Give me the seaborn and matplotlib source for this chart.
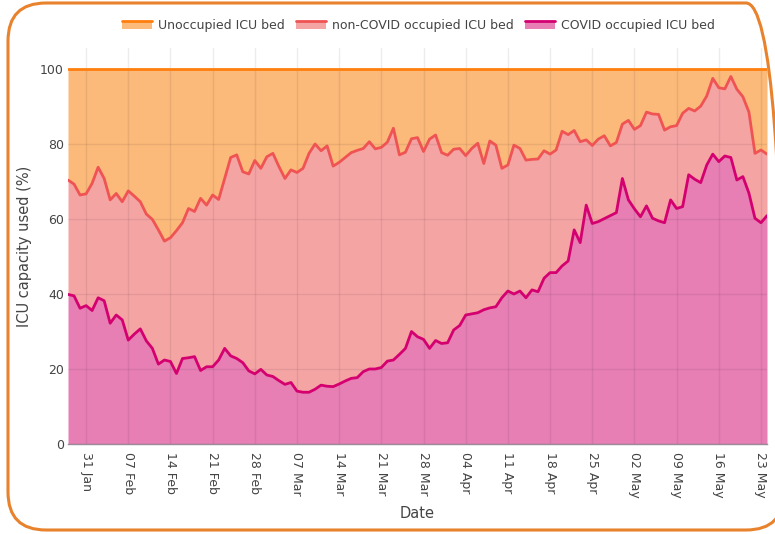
import matplotlib
matplotlib.use("Agg")
import matplotlib.pyplot as plt
import matplotlib.dates as mdates
from matplotlib.patches import FancyBboxPatch, Patch, Rectangle
from matplotlib.lines import Line2D
import seaborn as sns
import pandas as pd

# daily values, starting 28 Jan 2021
start_date = "2021-01-28"

# total occupied ICU beds (COVID + non-COVID), % of capacity
occupied_pct = [
    70.4, 69.3, 66.4, 66.7, 69.5, 73.8, 70.8, 65.1, 66.8, 64.6,
    67.5, 66.1, 64.6, 61.3, 59.9, 57.1, 54.1, 55.0, 56.9, 59.0,
    62.8, 62.0, 65.5, 63.7, 66.4, 65.2, 70.8, 76.4, 77.1, 72.6,
    72.0, 75.6, 73.5, 76.6, 77.5, 74.0, 70.8, 73.1, 72.4, 73.5,
    77.5, 80.0, 78.2, 79.5, 74.1, 75.1, 76.4, 77.7, 78.3, 78.8,
    80.6, 78.7, 79.1, 80.5, 84.2, 77.1, 77.8, 81.4, 81.7, 78.0,
    81.3, 82.4, 77.7, 77.0, 78.6, 78.8, 76.9, 78.8, 80.2, 74.8,
    80.8, 79.7, 73.5, 74.4, 79.7, 78.8, 75.7, 75.9, 76.0, 78.2,
    77.3, 78.4, 83.4, 82.5, 83.6, 80.6, 81.1, 79.6, 81.3, 82.2,
    79.5, 80.4, 85.3, 86.3, 83.9, 84.9, 88.5, 88.0, 87.9, 83.7,
    84.6, 84.9, 88.2, 89.5, 88.8, 90.1, 92.8, 97.5, 95.0, 94.7,
    98.0, 94.6, 92.6, 88.5, 77.5, 78.4, 77.3,
]

# COVID occupied ICU beds, % of capacity
covid_pct = [
    39.9, 39.5, 36.2, 36.9, 35.6, 39.0, 38.2, 32.2, 34.4, 33.1,
    27.7, 29.3, 30.7, 27.5, 25.5, 21.3, 22.4, 22.0, 18.8, 22.8,
    23.0, 23.3, 19.6, 20.6, 20.6, 22.4, 25.5, 23.5, 22.8, 21.7,
    19.5, 18.7, 19.9, 18.4, 18.0, 16.9, 15.9, 16.4, 14.1, 13.8,
    13.8, 14.6, 15.7, 15.4, 15.3, 16.0, 16.8, 17.5, 17.7, 19.3,
    20.0, 20.0, 20.4, 22.1, 22.4, 23.9, 25.5, 30.0, 28.6, 27.9,
    25.5, 27.6, 26.8, 27.0, 30.4, 31.6, 34.4, 34.7, 35.0, 35.8,
    36.3, 36.6, 39.0, 40.8, 40.0, 40.8, 39.0, 41.1, 40.6, 44.2,
    45.7, 45.7, 47.5, 48.8, 57.1, 53.7, 63.7, 58.8, 59.3, 60.1,
    60.9, 61.7, 70.8, 65.1, 62.7, 60.6, 63.5, 60.2, 59.5, 59.0,
    65.1, 62.8, 63.3, 71.8, 70.6, 69.7, 74.4, 77.3, 75.3, 76.8,
    76.4, 70.4, 71.3, 66.9, 60.2, 59.0, 60.9,
]

# total capacity is always 100 %
capacity_pct = [100] * len(occupied_pct)

series_names = ["Unoccupied ICU bed", "non-COVID occupied ICU bed", "COVID occupied ICU bed"]
line_colors = ["#ff7f0e", "#ef5353", "#d4006f"]
fill_colors = ["#fbb97a", "#f5a4a4", "#e77eb4"]


# legend symbol like plotly's area traces: filled box with the line on top
class AreaHandler:
    def legend_artist(self, legend, orig_handle, fontsize, handlebox):
        x0, y0 = handlebox.xdescent, handlebox.ydescent
        w, h = handlebox.width, handlebox.height
        tr = handlebox.get_transform()
        rect = Rectangle((x0, y0), w, h, facecolor=orig_handle.get_facecolor(), lw=0, transform=tr)
        line = Line2D([x0, x0 + w], [y0 + h, y0 + h], color=orig_handle.get_edgecolor(), lw=2, transform=tr)
        handlebox.add_artist(rect)
        handlebox.add_artist(line)
        return rect


dates = pd.date_range(start_date, periods=len(occupied_pct), freq="D")
df = pd.DataFrame({
    "Date": dates,
    series_names[0]: capacity_pct,
    series_names[1]: occupied_pct,
    series_names[2]: covid_pct,
})
long_df = df.melt(id_vars="Date", var_name="series", value_name="pct")

sns.set_theme(style="white")
plt.rcParams["font.family"] = ["DejaVu Sans"]

fig = plt.figure(figsize=(7.75, 5.34), dpi=100)
ax = fig.add_axes([68 / 775, 1 - 444 / 534, 699 / 775, 396 / 534])

# stacked areas
ax.fill_between(df["Date"], df[series_names[1]], df[series_names[0]], color=fill_colors[0], lw=0, zorder=1)
ax.fill_between(df["Date"], df[series_names[2]], df[series_names[1]], color=fill_colors[1], lw=0, zorder=1)
ax.fill_between(df["Date"], 0, df[series_names[2]], color=fill_colors[2], lw=0, zorder=1)

sns.lineplot(data=long_df, x="Date", y="pct", hue="series", hue_order=series_names,
             palette=line_colors, linewidth=2, legend=False, ax=ax, zorder=3)

ax.set_xlim(dates[0], dates[-1])
ax.set_ylim(0, 105.6)
ax.set_yticks([0, 20, 40, 60, 80, 100])
ax.xaxis.set_major_locator(mdates.WeekdayLocator(byweekday=mdates.SU))
ax.xaxis.set_major_formatter(mdates.DateFormatter("%d %b"))

ax.set_axisbelow("line")
ax.grid(True, color="black", alpha=0.07, lw=1)
for s in ["top", "right", "left"]:
    ax.spines[s].set_visible(False)
ax.spines["bottom"].set_color("#9a8a9a")
ax.spines["bottom"].set_linewidth(1)

ax.tick_params(axis="both", length=0, colors="#444444", labelsize=9)
ax.tick_params(axis="y", pad=3)
ax.tick_params(axis="x", pad=6)
for lab in ax.get_xticklabels():
    lab.set_rotation(-90)
    lab.set_va("top")
    lab.set_ha("center")

ax.set_xlabel("Date", fontsize=10.5, color="#444444", labelpad=6)
ax.set_ylabel("ICU capacity used (%)", fontsize=10.5, color="#444444", labelpad=6)

handles = [Patch(facecolor=fill_colors[i], edgecolor=line_colors[i]) for i in range(3)]
fig.legend(handles, series_names, loc="center", bbox_to_anchor=(0.54, 0.953), ncol=3,
           frameon=False, fontsize=9, handlelength=2.4, handleheight=0.6,
           columnspacing=0.9, handletextpad=0.5, labelcolor="#444444",
           handler_map={Patch: AreaHandler()})

# rounded orange frame around the whole figure (right edge runs off the image)
frame = FancyBboxPatch((8, 4), 776, 527, boxstyle="round,pad=0,rounding_size=38",
                       transform=None, fill=False, edgecolor="#e8822c", lw=2.2)
fig.add_artist(frame)

fig.savefig("out.png", dpi=100)
